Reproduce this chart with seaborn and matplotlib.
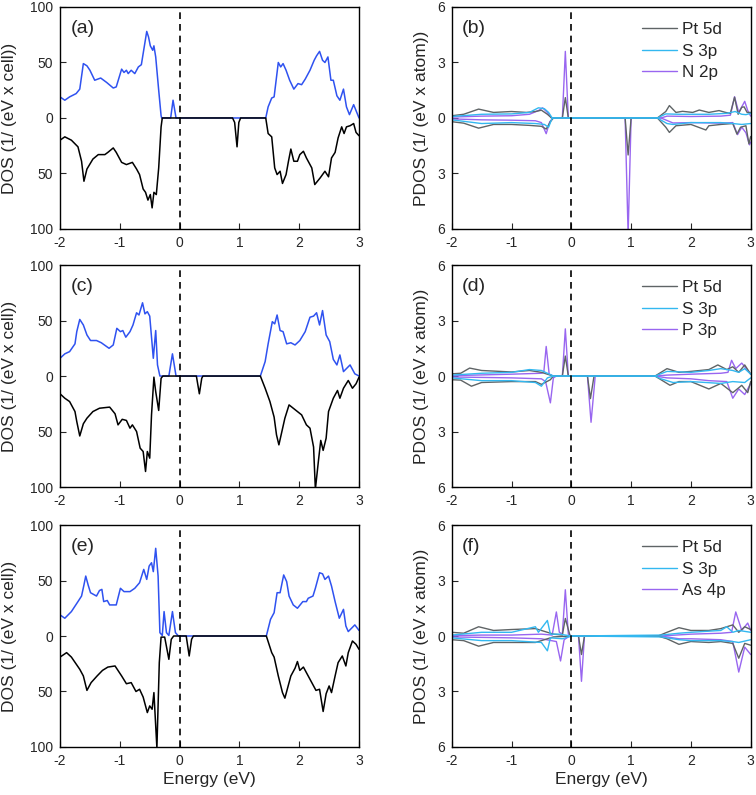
import matplotlib
matplotlib.use("Agg")
import matplotlib.pyplot as plt
import pandas as pd
import seaborn as sns

# ---------------- total DOS (left column), spin down stored as negative ----------------
a_up_E = [-2.0, -1.92, -1.84, -1.73, -1.67, -1.61, -1.55, -1.50, -1.42, -1.32, -1.22, -1.11, -1.06,
          -0.97, -0.93, -0.89, -0.86, -0.81, -0.75, -0.69, -0.64, -0.55, -0.52, -0.49, -0.45, -0.43,
          -0.40, -0.35, -0.31, -0.30, -0.15, -0.11, -0.06, 1.44, 1.48, 1.54, 1.58, 1.65, 1.69, 1.73,
          1.78, 1.84, 1.91, 1.98, 2.04, 2.10, 2.18, 2.25, 2.29, 2.34, 2.39, 2.43, 2.48, 2.53, 2.57,
          2.63, 2.68, 2.74, 2.79, 2.84, 2.91, 3.0]
a_up = [19, 16, 19, 22, 26, 49, 47, 43, 34, 36, 32, 27, 28, 44, 41, 43, 40, 43, 40, 46, 48, 78, 73,
        65, 61, 65, 55, 25, 2, 0, 0, 16, 0, 0, 10, 18, 19, 50, 46, 49, 43, 34, 26, 31, 30, 35, 43,
        52, 56, 60, 52, 50, 55, 34, 34, 20, 16, 26, 10, 3, 12, 0]
a_dn_E = [-2.0, -1.92, -1.81, -1.70, -1.64, -1.60, -1.55, -1.45, -1.36, -1.25, -1.20, -1.11, -1.06,
          -0.97, -0.89, -0.79, -0.72, -0.67, -0.61, -0.57, -0.53, -0.49, -0.46, -0.43, -0.39, -0.35,
          -0.31, -0.29, 0.885, 0.92, 0.96, 0.99, 1.02, 1.44, 1.48, 1.54, 1.59, 1.63, 1.68, 1.72, 1.78,
          1.82, 1.86, 1.91, 1.97, 2.01, 2.07, 2.12, 2.21, 2.26, 2.35, 2.43, 2.49, 2.54, 2.60, 2.65,
          2.71, 2.75, 2.79, 2.85, 2.91, 2.95, 3.0]
a_dn = [-20, -17, -20, -26, -39, -57, -46, -37, -33, -33, -31, -27, -31, -40, -42, -40, -46, -51,
        -64, -67, -74, -69, -81, -67, -69, -45, -8, 0, 0, -4, -26, -4, 0, 0, -14, -17, -45, -51, -48,
        -59, -51, -39, -28, -39, -39, -33, -30, -36, -45, -60, -54, -48, -53, -36, -31, -18, -8, -14,
        -8, -7, -5, -13, -16]

c_up_E = [-2.0, -1.92, -1.84, -1.75, -1.72, -1.67, -1.61, -1.55, -1.49, -1.39, -1.31, -1.18, -1.11,
          -1.05, -0.99, -0.95, -0.90, -0.83, -0.78, -0.72, -0.68, -0.62, -0.58, -0.54, -0.50, -0.44,
          -0.40, -0.37, -0.33, -0.18, -0.12, -0.06, 1.35, 1.43, 1.48, 1.55, 1.59, 1.63, 1.68, 1.73,
          1.79, 1.86, 1.93, 2.01, 2.10, 2.18, 2.24, 2.29, 2.34, 2.39, 2.45, 2.51, 2.57, 2.63, 2.68,
          2.74, 2.85, 2.93, 3.0]
c_up = [16, 20, 22, 29, 40, 51, 46, 37, 32, 32, 30, 25, 28, 43, 40, 41, 35, 40, 46, 57, 55, 66, 56,
        58, 54, 16, 41, 10, 0, 0, 20, 0, 0, 13, 29, 49, 47, 55, 41, 40, 29, 30, 28, 32, 40, 53, 54,
        57, 46, 59, 37, 31, 15, 10, 19, 4, 10, 2, 0]
c_dn_E = [-2.0, -1.92, -1.84, -1.75, -1.72, -1.67, -1.61, -1.55, -1.45, -1.34, -1.17, -1.08, -1.03,
          -0.96, -0.89, -0.83, -0.79, -0.72, -0.66, -0.61, -0.57, -0.54, -0.50, -0.47, -0.43, -0.40,
          -0.35, -0.31, -0.28, 0.28, 0.33, 0.37, 0.39, 1.35, 1.43, 1.51, 1.58, 1.62, 1.66, 1.71, 1.76,
          1.83, 1.90, 1.97, 2.04, 2.12, 2.18, 2.24, 2.27, 2.32, 2.36, 2.40, 2.45, 2.49, 2.57, 2.64,
          2.68, 2.74, 2.82, 2.89, 2.95, 3.0]
c_dn = [-16, -20, -23, -32, -41, -54, -43, -38, -32, -29, -28, -34, -44, -39, -40, -47, -44, -50,
        -65, -68, -86, -68, -74, -35, -1, -14, -31, -2, 0, 0, -16, -2, 0, 0, -11, -23, -37, -53, -62,
        -50, -38, -26, -29, -32, -35, -44, -47, -64, -102, -77, -58, -67, -56, -32, -20, -13, -20,
        -11, -4, -11, -7, -1]

e_up_E = [-2.0, -1.92, -1.81, -1.70, -1.64, -1.60, -1.57, -1.53, -1.49, -1.39, -1.34, -1.30, -1.27,
          -1.21, -1.17, -1.06, -0.99, -0.93, -0.83, -0.75, -0.67, -0.60, -0.55, -0.51, -0.47, -0.44,
          -0.40, -0.36, -0.33, -0.29, -0.26, -0.22, -0.18, -0.12, -0.07, -0.02, 1.45, 1.52, 1.58,
          1.63, 1.68, 1.74, 1.79, 1.83, 1.90, 1.97, 2.06, 2.12, 2.15, 2.23, 2.27, 2.34, 2.39, 2.43,
          2.49, 2.54, 2.60, 2.67, 2.74, 2.78, 2.82, 2.93, 3.0]
e_up = [19, 16, 22, 31, 36, 46, 54, 46, 39, 36, 41, 42, 31, 32, 28, 28, 43, 40, 40, 43, 48, 60, 51,
        63, 66, 58, 79, 54, 3, 0.5, 22, 3, 0.5, 22, 3, 0, 0, 15, 21, 39, 39, 55, 49, 36, 28, 25, 31,
        31, 34, 36, 43, 57, 56, 51, 54, 45, 31, 16, 24, 9, 4, 10, 5]
e_dn_E = [-2.0, -1.89, -1.81, -1.67, -1.61, -1.55, -1.48, -1.38, -1.29, -1.20, -1.08, -0.97, -0.89,
          -0.81, -0.73, -0.67, -0.61, -0.54, -0.50, -0.46, -0.43, -0.38, -0.34, -0.31, -0.25, -0.18,
          -0.14, -0.10, 0.11, 0.16, 0.20, 0.23, 1.45, 1.54, 1.58, 1.65, 1.72, 1.76, 1.80, 1.86, 1.93,
          1.97, 2.01, 2.07, 2.12, 2.21, 2.28, 2.34, 2.40, 2.45, 2.50, 2.54, 2.60, 2.65, 2.72, 2.78,
          2.82, 2.89, 2.95, 3.0]
e_dn = [-19, -15, -19, -30, -36, -49, -42, -36, -31, -28, -27, -36, -43, -42, -50, -48, -55, -69,
        -63, -66, -51, -101, -24, -1, -1, -21, -3, 0, 0, -18, -3, 0, 0, -15, -19, -36, -51, -56, -48,
        -36, -29, -23, -31, -28, -33, -42, -49, -48, -68, -52, -45, -51, -36, -24, -18, -27, -15,
        -4.5, -7.5, -12]

# ---------------- projected DOS (right column) ----------------
b_pt_up_E = [-2.0, -1.8, -1.55, -1.3, -1.0, -0.75, -0.6, -0.5, -0.4, -0.33, -0.15, -0.1, -0.05, 1.44,
             1.58, 1.64, 1.75, 1.86, 2.03, 2.14, 2.3, 2.47, 2.58, 2.66, 2.73, 2.79, 2.85, 2.89, 2.94, 3.0]
b_pt_up = [0.12, 0.2, 0.48, 0.3, 0.35, 0.3, 0.35, 0.42, 0.2, 0, 0, 1.1, 0, 0, 0.35, 0.67, 0.3, 0.36,
           0.3, 0.43, 0.3, 0.4, 0.3, 0.25, 1.12, 0.2, 0.58, 0.6, 0.3, 0.3]
b_pt_dn_E = [-2.0, -1.8, -1.55, -1.3, -1.0, -0.7, -0.5, -0.42, -0.35, -0.3, 0.9, 0.95, 1.0, 1.44,
             1.58, 1.64, 1.75, 2.0, 2.25, 2.3, 2.5, 2.7, 2.77, 2.83, 2.92, 2.97, 3.0]
b_pt_dn = [-0.2, -0.28, -0.55, -0.35, -0.35, -0.4, -0.45, -0.6, -0.2, 0, 0, -2.0, 0, 0, -0.5, -0.78,
           -0.42, -0.35, -0.65, -0.42, -0.35, -0.3, -0.87, -0.5, -0.42, -1.4, -1.0]
b_s_up_E = [-2.0, -1.5, -1.0, -0.7, -0.55, -0.45, -0.38, -0.32, 1.44, 1.58, 1.8, 2.3, 2.6, 2.74,
            2.85, 2.92, 3.0]
b_s_up = [0.08, 0.2, 0.22, 0.3, 0.55, 0.5, 0.3, 0, 0, 0.22, 0.2, 0.2, 0.25, 0.35, 0.2, 0.18, 0.25]
b_s_dn_E = [-2.0, -1.5, -1.0, -0.6, -0.45, -0.38, -0.32, 1.44, 1.6, 1.7, 2.0, 2.5, 2.7, 2.85, 3.0]
b_s_dn = [-0.1, -0.3, -0.25, -0.3, -0.35, -0.5, 0, 0, -0.3, -0.35, -0.25, -0.25, -0.3, -0.35, -0.3]
b_x_up_E = [-2.0, -1.5, -1.0, -0.7, -0.55, -0.48, -0.4, -0.33, -0.15, -0.1, -0.05, 1.5, 1.6, 2.0,
            2.5, 2.66, 2.73, 2.8, 2.85, 2.9, 2.95, 3.0]
b_x_up = [0.05, 0.1, 0.12, 0.2, 0.4, 0.55, 0.3, 0, 0, 3.6, 0, 0, 0.1, 0.08, 0.1, 0.15, 1.15, 0.3,
          0.6, 0.9, 0.4, 0.1]
b_x_dn_E = [-2.0, -1.5, -1.0, -0.6, -0.5, -0.42, -0.36, -0.3, 0.9, 0.95, 1.0, 1.5, 1.7, 2.0, 2.5,
            2.7, 2.78, 2.85, 2.92, 2.98, 3.0]
b_x_dn = [-0.05, -0.1, -0.12, -0.15, -0.25, -0.85, -0.2, 0, 0, -6.3, 0, 0, -0.27, -0.25, -0.28,
          -0.25, -0.9, -0.5, -0.8, -1.45, -1.3]

d_pt_up_E = [-2.0, -1.85, -1.7, -1.5, -1.0, -0.7, -0.5, -0.35, -0.3, -0.15, -0.1, -0.05, 1.4, 1.5,
             1.6, 1.8, 2.0, 2.3, 2.45, 2.6, 2.7, 2.8, 2.9, 3.0]
d_pt_up = [0.12, 0.15, 0.43, 0.3, 0.22, 0.3, 0.2, 0.05, 0, 0, 1.08, 0, 0, 0.2, 0.4, 0.2, 0.25, 0.35,
           0.6, 0.35, 0.5, 0.2, 0.6, 0.1]
d_pt_dn_E = [-2.0, -1.85, -1.67, -1.5, -1.0, -0.6, -0.5, -0.35, -0.3, 0.27, 0.32, 0.38, 1.4, 1.5,
             1.65, 1.8, 2.0, 2.3, 2.5, 2.7, 2.85, 2.95, 3.0]
d_pt_dn = [-0.2, -0.22, -0.55, -0.35, -0.3, -0.3, -0.45, -0.2, 0, 0, -1.22, 0, 0, -0.2, -0.5, -0.3,
           -0.3, -0.7, -0.4, -0.9, -0.5, -0.9, -0.3]
d_s_up_E = [-2.0, -1.5, -1.0, -0.7, -0.5, -0.4, -0.3, 1.4, 1.6, 2.0, 2.3, 2.5, 2.7, 2.8, 2.9, 3.0]
d_s_up = [0.05, 0.15, 0.2, 0.35, 0.3, 0.15, 0, 0, 0.25, 0.2, 0.3, 0.4, 0.3, 0.2, 0.4, 0.1]
d_s_dn_E = [-2.0, -1.5, -1.0, -0.6, -0.5, -0.4, -0.3, 1.4, 1.5, 1.7, 2.0, 2.5, 2.7, 2.9, 3.0]
d_s_dn = [-0.1, -0.25, -0.25, -0.35, -0.55, -0.1, 0, 0, -0.15, -0.35, -0.3, -0.4, -0.3, -0.35, -0.1]
d_x_up_E = [-2.0, -1.0, -0.5, -0.46, -0.42, -0.37, -0.3, -0.15, -0.1, -0.05, 1.4, 1.6, 2.0, 2.5,
            2.62, 2.68, 2.75, 2.85, 2.95, 3.0]
d_x_up = [0.02, 0.1, 0.15, 0.2, 1.6, 0.1, 0, 0, 2.55, 0, 0, 0.05, 0.1, 0.15, 0.2, 0.85, 0.4, 0.7,
          0.3, 0.1]
d_x_dn_E = [-2.0, -1.0, -0.5, -0.43, -0.35, -0.3, -0.25, 0.27, 0.33, 0.4, 1.4, 1.6, 2.0, 2.3, 2.6,
            2.7, 2.8, 2.9, 3.0]
d_x_dn = [-0.05, -0.1, -0.15, -0.3, -1.45, -0.1, 0, 0, -2.5, 0, 0, -0.1, -0.15, -0.25, -0.3, -1.2,
          -0.7, -1.0, -0.4]

f_pt_up_E = [-2.0, -1.8, -1.55, -1.3, -1.0, -0.6, -0.5, -0.3, -0.15, -0.1, -0.02, 1.45, 1.6, 1.8,
             2.0, 2.3, 2.5, 2.7, 2.8, 2.9, 3.0]
f_pt_up = [0.2, 0.15, 0.5, 0.3, 0.35, 0.4, 0.3, 0.1, 0.05, 0.95, 0, 0, 0.2, 0.45, 0.3, 0.3, 0.4,
           0.6, 0.2, 0.5, 0.35]
f_pt_dn_E = [-2.0, -1.8, -1.55, -1.3, -1.0, -0.6, -0.45, -0.3, 0.0, 0.12, 0.17, 0.22, 1.45, 1.6,
             1.8, 2.0, 2.3, 2.5, 2.7, 2.8, 2.9, 3.0]
f_pt_dn = [-0.2, -0.25, -0.55, -0.35, -0.35, -0.35, -0.2, -0.05, 0, 0, -1.0, 0, 0, -0.15, -0.45,
           -0.3, -0.35, -0.3, -0.4, -1.2, -0.4, -0.5]
f_s_up_E = [-2.0, -1.5, -1.0, -0.6, -0.55, -0.4, -0.35, -0.2, -0.1, 0.0, 1.5, 1.8, 2.0, 2.5, 2.6,
            2.7, 2.8, 3.0]
f_s_up = [0.05, 0.2, 0.2, 0.5, 0.2, 0.84, 0.1, 0.1, 0.05, 0, 0.05, 0.15, 0.2, 0.3, 0.5, 0.2, 0.3, 0.2]
f_s_dn_E = [-2.0, -1.5, -1.0, -0.5, -0.4, -0.35, -0.15, 0.0, 1.5, 1.8, 2.0, 2.5, 2.7, 2.8, 3.0]
f_s_dn = [-0.1, -0.25, -0.25, -0.35, -0.8, -0.1, -0.15, 0, -0.05, -0.2, -0.25, -0.25, -0.3, -0.35, -0.2]
f_x_up_E = [-2.0, -1.5, -1.0, -0.5, -0.32, -0.25, -0.2, -0.15, -0.1, -0.05, 0.0, 1.5, 2.0, 2.5,
            2.68, 2.75, 2.85, 2.95, 3.0]
f_x_up = [0.02, 0.05, 0.05, 0.1, 0.05, 1.3, 0.2, 0.1, 2.5, 0.1, 0, 0, 0.1, 0.15, 0.2, 1.3, 0.3, 0.7, 0.3]
f_x_dn_E = [-2.0, -1.0, -0.5, -0.25, -0.18, -0.12, -0.05, 0.0, 0.12, 0.17, 0.22, 1.5, 1.8, 2.0,
            2.5, 2.7, 2.8, 2.9, 3.0]
f_x_dn = [-0.05, -0.1, -0.15, -0.3, -1.35, -0.2, -0.05, 0, 0, -2.45, 0, 0, -0.15, -0.15, -0.2,
          -0.3, -1.95, -0.6, -1.0]

panel_tags = ["(a)", "(b)", "(c)", "(d)", "(e)", "(f)"]
third_orbital = ["N 2p", "P 3p", "As 4p"]
x_ticks = [-2, -1, 0, 1, 2, 3]
dos_ticks = [-100, -50, 0, 50, 100]
dos_ticklabels = ["100", "50", "0", "50", "100"]
pdos_ticks = [-6, -3, 0, 3, 6]
pdos_ticklabels = ["6", "3", "0", "3", "6"]

sns.set_theme(style="ticks")
plt.rcParams["font.family"] = ["Liberation Sans", "DejaVu Sans"]

c_up_col = "#2f52f0"
c_pt = "#5f6466"
c_s = "#33b8f0"
c_x = "#9966f0"

fig = plt.figure(figsize=(7.56, 7.95), dpi=100)
rows_y = [0.7120, 0.3874, 0.0604]
ax_h = 0.2792
axes = []
for r in range(3):
    axL = fig.add_axes([0.0794, rows_y[r], 0.3955, ax_h])
    axR = fig.add_axes([0.5975, rows_y[r], 0.3955, ax_h])
    axes.append((axL, axR))

tot = [(a_up_E, a_up, a_dn_E, a_dn), (c_up_E, c_up, c_dn_E, c_dn), (e_up_E, e_up, e_dn_E, e_dn)]
proj = [
    [(b_pt_up_E, b_pt_up), (b_pt_dn_E, b_pt_dn), (b_s_up_E, b_s_up), (b_s_dn_E, b_s_dn),
     (b_x_up_E, b_x_up), (b_x_dn_E, b_x_dn)],
    [(d_pt_up_E, d_pt_up), (d_pt_dn_E, d_pt_dn), (d_s_up_E, d_s_up), (d_s_dn_E, d_s_dn),
     (d_x_up_E, d_x_up), (d_x_dn_E, d_x_dn)],
    [(f_pt_up_E, f_pt_up), (f_pt_dn_E, f_pt_dn), (f_s_up_E, f_s_up), (f_s_dn_E, f_s_dn),
     (f_x_up_E, f_x_up), (f_x_dn_E, f_x_dn)],
]

def style_axis(ax, yt, ytl, ylim, ylabel, tag, bottom, lpad):
    ax.set_xlim(-2, 3)
    ax.set_ylim(*ylim)
    ax.set_xticks(x_ticks)
    ax.set_xticklabels([str(v) for v in x_ticks], fontsize=10)
    ax.set_yticks(yt)
    ax.set_yticklabels(ytl, fontsize=10)
    ax.tick_params(direction="in", length=4, width=0.8, top=False, right=False, pad=5)
    for sp in ax.spines.values():
        sp.set_linewidth(1.0)
        sp.set_color("black")
    ax.axvline(0, color="black", lw=1.2, ls=(0, (4, 3)), zorder=5)
    ax.set_ylabel(ylabel, fontsize=12.5, labelpad=lpad)
    ax.set_xlabel("Energy (eV)" if bottom else "", fontsize=12.5, labelpad=3)
    ax.text(0.035, 0.94, tag, transform=ax.transAxes, fontsize=14, va="top", ha="left")

for r in range(3):
    axL, axR = axes[r]
    upE, up, dnE, dn = tot[r]
    sns.lineplot(x=upE, y=up, ax=axL, color=c_up_col, lw=1.1, sort=False, estimator=None)
    sns.lineplot(x=dnE, y=dn, ax=axL, color="black", lw=1.1, sort=False, estimator=None)
    style_axis(axL, dos_ticks, dos_ticklabels, (-100, 100), "DOS (1/ (eV x cell))",
               panel_tags[2 * r], r == 2, 9)

    curves = proj[r]
    order = [(4, c_x), (5, c_x), (0, c_pt), (1, c_pt), (2, c_s), (3, c_s)]
    for idx, col in order:
        E, v = curves[idx]
        df = pd.DataFrame({"E": E, "v": v})
        sns.lineplot(data=df, x="E", y="v", ax=axR, color=col, lw=1.0, sort=False, estimator=None)
    style_axis(axR, pdos_ticks, pdos_ticklabels, (-6, 6), "PDOS (1/ (eV x atom))",
               panel_tags[2 * r + 1], r == 2, 6)
    handles = [plt.Line2D([], [], color=c_pt, lw=1.0),
               plt.Line2D([], [], color=c_s, lw=1.0),
               plt.Line2D([], [], color=c_x, lw=1.0)]
    axR.legend(handles, ["Pt 5d", "S 3p", third_orbital[r]], loc="upper left",
               bbox_to_anchor=(0.635, 0.932), frameon=False, fontsize=12.3, handlelength=2.1,
               handletextpad=0.25, labelspacing=0.38, borderpad=0, borderaxespad=0)

fig.savefig("out.png", dpi=100)
